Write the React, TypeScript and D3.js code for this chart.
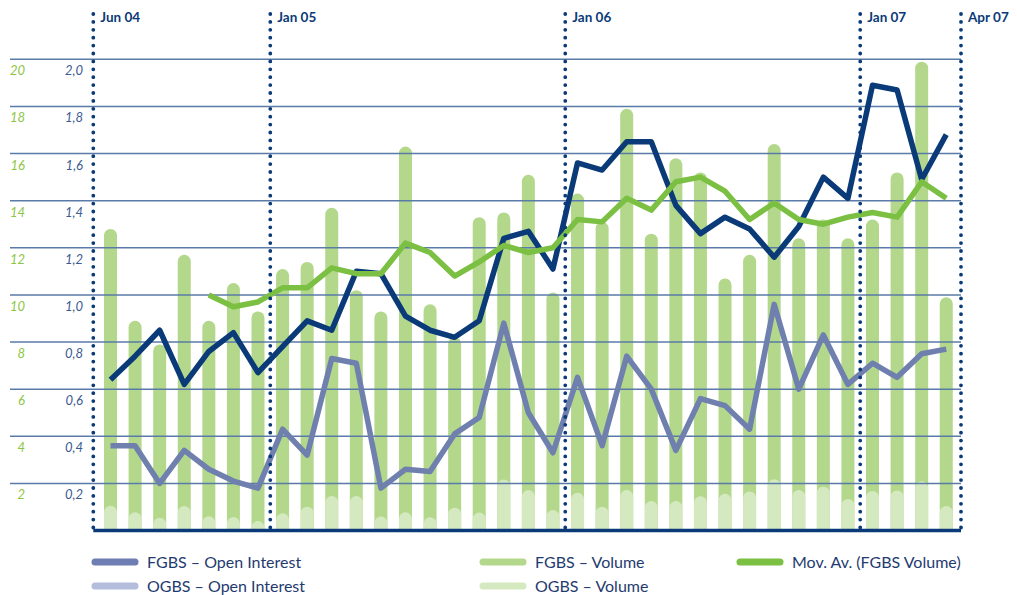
import React from "react";
import * as d3 from "d3";

// months Jun 04 .. Apr 07
const months = [
  "Jun 04", "Jul 04", "Aug 04", "Sep 04", "Oct 04", "Nov 04", "Dec 04",
  "Jan 05", "Feb 05", "Mar 05", "Apr 05", "May 05", "Jun 05", "Jul 05", "Aug 05", "Sep 05", "Oct 05", "Nov 05", "Dec 05",
  "Jan 06", "Feb 06", "Mar 06", "Apr 06", "May 06", "Jun 06", "Jul 06", "Aug 06", "Sep 06", "Oct 06", "Nov 06", "Dec 06",
  "Jan 07", "Feb 07", "Mar 07", "Apr 07",
];

const fgbsVolume = [
  12.8, 8.9, 7.9, 11.7, 8.9, 10.5, 9.3,
  11.1, 11.4, 13.7, 10.2, 9.3, 16.3, 9.6, 8.2, 13.3, 13.5, 15.1, 10.1,
  14.3, 13.1, 17.9, 12.6, 15.8, 15.2, 10.7, 11.7, 16.4, 12.4, 13.2, 12.4,
  13.2, 15.2, 19.9, 9.9,
];

const ogbsVolume = [
  1.05, 0.77, 0.54, 1.04, 0.6, 0.57, 0.4,
  0.73, 1.01, 1.46, 1.46, 0.59, 0.77, 0.56, 0.97, 0.76, 2.16, 1.72, 0.87,
  1.6, 1.01, 1.72, 1.25, 1.25, 1.45, 1.56, 1.66, 2.17, 1.72, 1.86, 1.34,
  1.68, 1.7, 2.09, 1.04,
];

const fgbsOI = [
  0.64, 0.74, 0.85, 0.62, 0.76, 0.84, 0.67,
  0.78, 0.89, 0.85, 1.1, 1.09, 0.91, 0.85, 0.82, 0.89, 1.24, 1.27, 1.11,
  1.56, 1.53, 1.65, 1.65, 1.38, 1.26, 1.33, 1.28, 1.16, 1.29, 1.5, 1.41,
  1.89, 1.87, 1.49, 1.68,
];

const ogbsOI = [
  0.36, 0.36, 0.2, 0.34, 0.26, 0.21, 0.18,
  0.43, 0.32, 0.73, 0.71, 0.18, 0.26, 0.25, 0.41, 0.48, 0.88, 0.5, 0.33,
  0.65, 0.36, 0.74, 0.6, 0.34, 0.56, 0.53, 0.43, 0.96, 0.6, 0.83, 0.62,
  0.71, 0.65, 0.75, 0.77,
];

// moving average starts at Oct 04
const movAvg: (number | null)[] = [
  null, null, null, null, 10.0, 9.5, 9.7,
  10.3, 10.3, 11.15, 10.9, 10.9, 12.2, 11.8, 10.8, 11.4, 12.1, 11.8, 12.0,
  13.2, 13.1, 14.1, 13.6, 14.8, 15.0, 14.4, 13.2, 13.9, 13.2, 13.0, 13.3,
  13.5, 13.3, 14.8, 14.1,
];

const markers = [
  { label: "Jun 04", at: -0.7 },
  { label: "Jan 05", at: 6.5 },
  { label: "Jan 06", at: 18.5 },
  { label: "Jan 07", at: 30.5 },
  { label: "Apr 07", at: 34.6 },
];

const volTicks = [2, 4, 6, 8, 10, 12, 14, 16, 18, 20];

const legendItems = [
  { label: "FGBS – Open Interest", color: "#6e7db2", col: 0, row: 0 },
  { label: "OGBS – Open Interest", color: "#b4bedc", col: 0, row: 1 },
  { label: "FGBS – Volume", color: "#b3d88c", col: 1, row: 0 },
  { label: "OGBS – Volume", color: "#d5e9c0", col: 1, row: 1 },
  { label: "Mov. Av. (FGBS Volume)", color: "#7bbf43", col: 2, row: 0 },
];

const NAVY = "#0a3a78";
const FONT = "Lato, 'Open Sans', sans-serif";

function barPath(x: number, top: number, bottom: number, w: number) {
  const r = w / 2;
  return `M${x - r},${bottom}V${top + r}A${r},${r} 0 0 1 ${x + r},${top + r}V${bottom}Z`;
}

export default function App() {
  const width = 1017;
  const height = 595;

  const x = d3.scaleLinear().domain([-0.7, 34.6]).range([93.3, 961]);
  const yVol = d3.scaleLinear().domain([0, 20]).range([530.5, 59.3]);
  const yOI = d3.scaleLinear().domain([0, 2]).range([530.5, 59.3]);
  const fmt = d3.format(".1f");

  const oiLine = d3
    .line<number>()
    .x((_, i) => x(i))
    .y((d) => yOI(d));

  const avgLine = d3
    .line<number | null>()
    .defined((d) => d != null)
    .x((_, i) => x(i))
    .y((d) => yVol(d as number));

  const barW = 13;
  const base = yVol(0);

  return (
    <div style={{ position: "absolute", left: 0, top: 0 }}>
      <svg width={width} height={height} style={{ display: "block", background: "#fff" }}>
        {/* bars */}
        <g>
          {fgbsVolume.map((v, i) => (
            <path key={"f" + i} d={barPath(x(i), yVol(v), base, barW)} fill="#b3d88c" />
          ))}
          {ogbsVolume.map((v, i) => (
            <path key={"o" + i} d={barPath(x(i), yVol(v), base, barW)} fill="#d5e9c0" />
          ))}
        </g>

        {/* grid + axis labels */}
        <g>
          {volTicks.map((t) => (
            <g key={t}>
              <line x1={10} x2={x(34.6)} y1={yVol(t)} y2={yVol(t)} stroke="#5a7aa7" strokeWidth={1.5} />
              <text
                x={25}
                y={yVol(t) + 16}
                textAnchor="end"
                fontFamily={FONT}
                fontStyle="italic"
                fontSize={13}
                fill="#8cc63f"
              >
                {t}
              </text>
              <text
                x={83}
                y={yOI(t / 10) + 16}
                textAnchor="end"
                fontFamily={FONT}
                fontStyle="italic"
                fontSize={13}
                fill="#3b5a92"
              >
                {fmt(t / 10).replace(".", ",")}
              </text>
            </g>
          ))}
        </g>

        {/* lines */}
        <path d={oiLine(ogbsOI) || ""} fill="none" stroke="#6f7fae" strokeWidth={5.5} strokeLinejoin="round" />
        <path d={oiLine(fgbsOI) || ""} fill="none" stroke={NAVY} strokeWidth={5.5} strokeLinejoin="round" />
        <path d={avgLine(movAvg) || ""} fill="none" stroke="#7bbf43" strokeWidth={5.5} strokeLinejoin="round" />

        {/* baseline */}
        <line x1={x(-0.7)} x2={x(34.6)} y1={base} y2={base} stroke={NAVY} strokeWidth={3.5} />

        {/* date markers */}
        {markers.map((m) => (
          <g key={m.label}>
            <line
              x1={x(m.at)}
              x2={x(m.at)}
              y1={14}
              y2={base}
              stroke={NAVY}
              strokeWidth={3.8}
              strokeLinecap="round"
              strokeDasharray="0 7.9"
            />
            <text x={x(m.at) + 7} y={21.5} fontFamily={FONT} fontWeight="bold" fontSize={13.5} fill={NAVY}>
              {m.label}
            </text>
          </g>
        ))}

        {/* legend */}
        {legendItems.map((l) => {
          const lx = [92, 480, 737][l.col];
          const ly = 562 + l.row * 24;
          return (
            <g key={l.label}>
              <line x1={lx + 3} x2={lx + 43} y1={ly} y2={ly} stroke={l.color} strokeWidth={7} strokeLinecap="round" />
              <text x={lx + 55} y={ly} dy="0.35em" fontFamily={FONT} fontSize={16} fill="#1f3b70">
                {l.label}
              </text>
            </g>
          );
        })}
      </svg>
    </div>
  );
}
